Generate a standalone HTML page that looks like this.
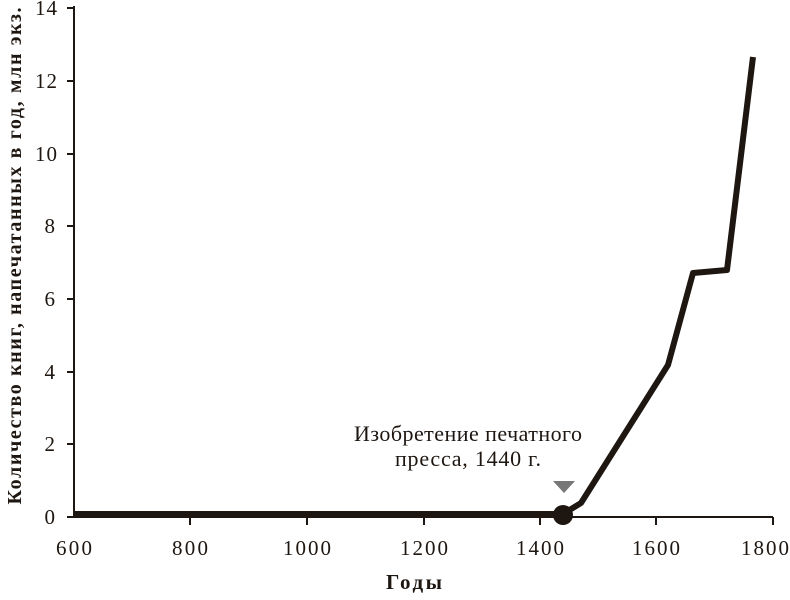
<!DOCTYPE html>
<html><head><meta charset="utf-8"><style>
body{margin:0;background:#fff}
svg text{font-family:"Liberation Serif","DejaVu Serif",serif;fill:#1e1610}
</style></head><body>
<svg width="790" height="595" viewBox="0 0 790 595" xmlns="http://www.w3.org/2000/svg">
<g stroke="#1e1610" stroke-width="2" fill="none">
<line x1="74" y1="6" x2="74" y2="517"/>
<line x1="74" y1="517" x2="773" y2="517"/>
<line x1="67" y1="8" x2="74" y2="8"/>
<line x1="67" y1="81" x2="74" y2="81"/>
<line x1="67" y1="154" x2="74" y2="154"/>
<line x1="67" y1="226" x2="74" y2="226"/>
<line x1="67" y1="299" x2="74" y2="299"/>
<line x1="67" y1="372" x2="74" y2="372"/>
<line x1="67" y1="444" x2="74" y2="444"/>
<line x1="67" y1="517" x2="74" y2="517"/>
<line x1="190" y1="517" x2="190" y2="525"/>
<line x1="307" y1="517" x2="307" y2="525"/>
<line x1="424" y1="517" x2="424" y2="525"/>
<line x1="540" y1="517" x2="540" y2="525"/>
<line x1="656" y1="517" x2="656" y2="525"/>
<line x1="773" y1="517" x2="773" y2="525"/>
</g>
<g font-size="21" text-anchor="end">
<text x="57" y="15" textLength="22">14</text>
<text x="57" y="88" textLength="22">12</text>
<text x="57" y="161" textLength="22">10</text>
<text x="55" y="233">8</text>
<text x="55" y="306">6</text>
<text x="55" y="379">4</text>
<text x="55" y="451">2</text>
<text x="55" y="524">0</text>
</g>
<g font-size="21" text-anchor="middle">
<text x="74" y="555" textLength="36">600</text>
<text x="190" y="555" textLength="36">800</text>
<text x="307" y="555" textLength="48">1000</text>
<text x="424" y="555" textLength="48">1200</text>
<text x="540" y="555" textLength="48">1400</text>
<text x="656" y="555" textLength="48">1600</text>
<text x="765" y="555" textLength="48">1800</text>
<text x="468" y="441" font-size="22" textLength="228">Изобретение печатного</text>
<text x="468" y="466" font-size="22" textLength="146">пресса, 1440 г.</text>
<text x="414" y="589" font-weight="bold" textLength="56">Годы</text>
<text transform="translate(21,256) rotate(-90)" font-weight="bold" font-size="20" textLength="497">Количество книг, напечатанных в год, млн экз.</text>
</g>
<polyline points="74,514 563,514 581,503 668,365 693,273 727,270 753,57" fill="none" stroke="#1e1610" stroke-width="6" stroke-linejoin="round"/>
<circle cx="563" cy="515" r="10" fill="#1e1610"/>
<polygon points="553,481 575,481 564,493" fill="#777"/>
</svg>
</body></html>
